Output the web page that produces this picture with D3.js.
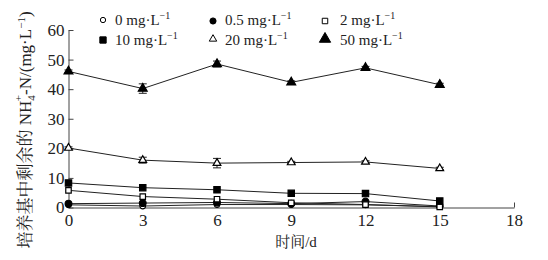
<!DOCTYPE html>
<html><head><meta charset="utf-8">
<script src="https://cdn.jsdelivr.net/npm/d3@7"></script>
<style>body{margin:0;background:#fff}svg{display:block}</style>
</head><body>
<svg id="c" width="548" height="260"></svg>
<script>
const days = [0, 3, 6, 9, 12, 15];
const xTicks = [0, 3, 6, 9, 12, 15, 18];
const yTicks = [0, 10, 20, 30, 40, 50, 60];
const seriesNames = ["0", "0.5", "2", "10", "20", "50"];
const s0 = [0.9, 0.5, 1.0, 1.0, 0.9, 0.3];
const s05 = [1.3, 1.5, 1.7, 1.3, 2.0, 0.5];
const s2 = [5.8, 3.7, 2.8, 1.6, 1.0, 0.2];
const s10 = [8.3, 6.7, 6.0, 4.8, 4.7, 2.2];
const s20 = [20.1, 16.0, 15.0, 15.2, 15.4, 13.2];
const s50 = [46.0, 40.2, 48.5, 42.3, 47.2, 41.5];
const err20 = [0.4, 1.0, 1.6, 0.4, 0.4, 0.4];
const err50 = [0.5, 1.6, 1.0, 0.5, 0.5, 0.5];

const SERIF = "'Times New Roman', Times, 'Liberation Serif', 'DejaVu Serif', 'Noto Serif', serif";
const CJK = "'Noto Serif CJK SC', 'Noto Sans CJK SC', sans-serif";
const svg = d3.select("#c");
const x = d3.scaleLinear().domain([0, 18]).range([68.5, 514]);
const y = d3.scaleLinear().domain([0, 60]).range([207.5, 30]);

const xa = svg.append("g").attr("transform", `translate(0,${y(0)})`)
  .call(d3.axisBottom(x).tickValues(xTicks).tickSizeInner(-5).tickSizeOuter(0).tickPadding(6));
const ya = svg.append("g").attr("transform", `translate(${x(0)},0)`)
  .call(d3.axisLeft(y).tickValues(yTicks).tickSizeInner(-5).tickSizeOuter(0).tickPadding(4));
[xa, ya].forEach(a => {
  a.attr("font-family", SERIF).attr("font-size", 17);
  a.selectAll("path,line").attr("stroke", "#444").attr("stroke-width", 1);
  a.selectAll("text").attr("fill", "#222");
});

const series = [
  {v: s0, sym: d3.symbolCircle, fill: "#fff", size: 26},
  {v: s05, sym: d3.symbolCircle, fill: "#000", size: 36},
  {v: s2, sym: d3.symbolSquare, fill: "#fff", size: 30},
  {v: s10, sym: d3.symbolSquare, fill: "#000", size: 40},
  {v: s20, sym: d3.symbolTriangle, fill: "#fff", size: 26, err: err20},
  {v: s50, sym: d3.symbolTriangle, fill: "#000", size: 34, err: err50}
];
const line = d3.line().x((d, i) => x(days[i])).y(d => y(d));
series.forEach(s => {
  svg.append("path").attr("d", line(s.v)).attr("fill", "none").attr("stroke", "#222").attr("stroke-width", 1);
});
series.forEach(s => {
  const g = svg.append("g");
  if (s.err) {
    s.v.forEach((v, i) => {
      const cx = x(days[i]);
      g.append("line").attr("x1", cx).attr("x2", cx).attr("y1", y(v - s.err[i])).attr("y2", y(v + s.err[i])).attr("stroke", "#222");
      [v - s.err[i], v + s.err[i]].forEach(e => g.append("line").attr("x1", cx - 4).attr("x2", cx + 4).attr("y1", y(e)).attr("y2", y(e)).attr("stroke", "#222"));
    });
  }
  s.v.forEach((v, i) => {
    g.append("path").attr("d", d3.symbol().type(s.sym).size(s.size)())
      .attr("transform", `translate(${x(days[i])},${y(v)})`)
      .attr("fill", s.fill).attr("stroke", "#000").attr("stroke-width", 1.2);
  });
});

// legend
const legPos = [[103, 20], [213, 21], [325, 21], [103, 40], [213, 39], [325, 39]];
const legSym = [
  {sym: d3.symbolCircle, fill: "#fff", size: 22},
  {sym: d3.symbolCircle, fill: "#000", size: 30},
  {sym: d3.symbolSquare, fill: "#fff", size: 30},
  {sym: d3.symbolSquare, fill: "#000", size: 40},
  {sym: d3.symbolTriangle, fill: "#fff", size: 24},
  {sym: d3.symbolTriangle, fill: "#000", size: 55}
];
const legTx = [115, 225, 340, 115, 225, 340];
const leg = svg.append("g").attr("font-family", SERIF).attr("font-size", 15);
seriesNames.forEach((n, i) => {
  const [lx, ly] = legPos[i];
  leg.append("path").attr("d", d3.symbol().type(legSym[i].sym).size(legSym[i].size)())
    .attr("transform", `translate(${lx},${ly})`).attr("fill", legSym[i].fill).attr("stroke", "#000").attr("stroke-width", 1);
  const t = leg.append("text").attr("x", legTx[i]).attr("y", (i < 3 ? 20 : 40) + 5).attr("fill", "#222");
  t.append("tspan").text(n + " mg·L");
  t.append("tspan").attr("dy", -6).attr("font-size", 10).text("−1");
});

// axis titles
svg.append("text").attr("x", 296).attr("y", 247).attr("text-anchor", "middle")
  .attr("font-size", 15).attr("fill", "#222").attr("font-family", SERIF)
  .call(t => {
    t.append("tspan").attr("font-family", CJK).text("时间");
    t.append("tspan").text("/d");
  });
const yl = svg.append("text").attr("transform", "translate(31,130) rotate(-90)").attr("text-anchor", "middle")
  .attr("font-size", 17).attr("fill", "#222").attr("font-family", SERIF);
yl.append("tspan").attr("font-family", CJK).text("培养基中剩余的 ");
yl.append("tspan").text("NH");
yl.append("tspan").attr("font-size", 11).attr("dy", 4).text("4");
yl.append("tspan").attr("font-size", 11).attr("dx", -6).attr("dy", -13).text("+");
yl.append("tspan").attr("dy", 9).text("-N/(mg·L");
yl.append("tspan").attr("font-size", 11).attr("dy", -6).text("−1");
yl.append("tspan").attr("dy", 6).text(")");
</script>
</body></html>
